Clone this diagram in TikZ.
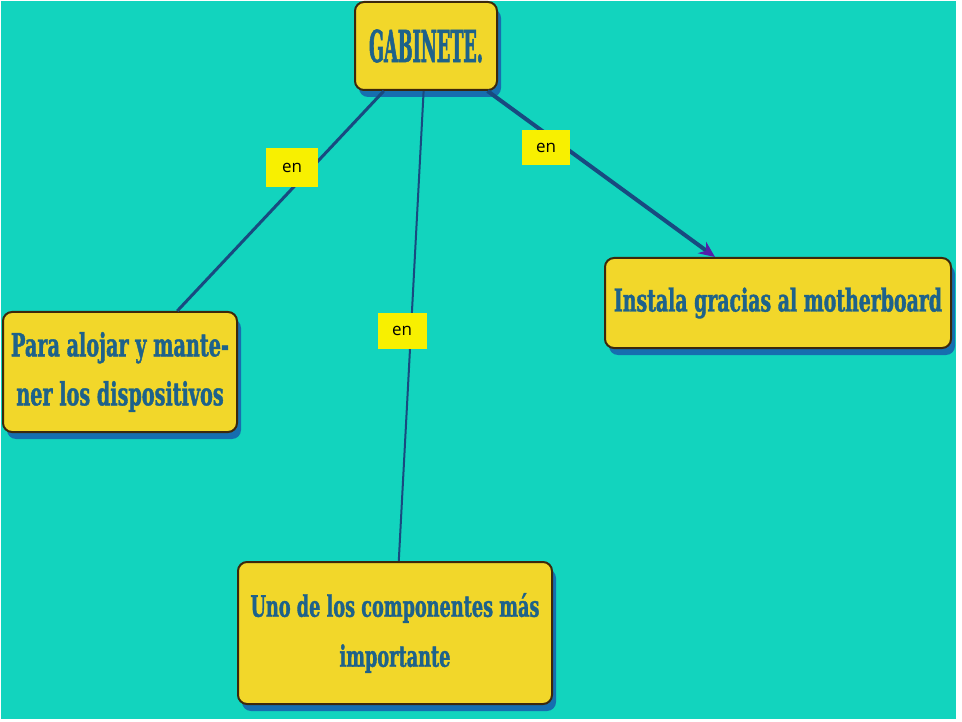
\documentclass[tikz,border=0pt]{standalone}
\usepackage{fontspec}
\usetikzlibrary{arrows.meta,shadows}
\newfontfamily\boxfont[FakeStretch=0.6,FakeBold=1.2,UprightFont={* Bold}]{DejaVu Serif}
\newfontfamily\titlefont[FakeStretch=0.4,FakeBold=1.2,UprightFont={* Bold}]{DejaVu Serif}
\newfontfamily\labfont{Open Sans}
\definecolor{bgteal}{RGB}{18,212,190}
\definecolor{boxyellow}{RGB}{242,215,42}
\definecolor{boxedge}{RGB}{60,40,12}
\definecolor{shadowblue}{RGB}{22,110,175}
\definecolor{txtblue}{RGB}{30,98,138}
\definecolor{linkblue}{RGB}{24,74,128}
\definecolor{arrowpurple}{RGB}{84,30,170}
\definecolor{labyellow}{RGB}{248,240,0}
\tikzset{
  concept/.style={draw=boxedge, line width=2pt, fill=boxyellow, rounded corners=9pt,
    text=txtblue, align=center, inner sep=0pt,
    font=\boxfont\fontsize{32}{49}\selectfont,
    drop shadow={fill=shadowblue, opacity=1, shadow xshift=4pt, shadow yshift=-7pt}},
  link/.style={draw=linkblue, line width=2.5pt},
  linklabel/.style={fill=labyellow, text=black, font=\labfont\fontsize{17}{20}\selectfont,
    minimum width=50pt, minimum height=37pt, inner sep=0pt}
}
\begin{document}
\begin{tikzpicture}[x=1pt,y=-1pt]
\useasboundingbox (0,0) rectangle (962,722);
\fill[white] (0,0) rectangle (962,722);
\fill[bgteal] (1,1) rectangle (956,719);
% concepts
\node[concept, minimum width=142pt, minimum height=88pt,
      font=\titlefont\fontsize{44}{48}\selectfont] (gab) at (426,46) {GABINETE.};
\node[concept, minimum width=234pt, minimum height=120pt] (left) at (120,372)
  {Para alojar y mante-\\ner los dispositivos};
\node[concept, minimum width=346pt, minimum height=90pt,
      font=\boxfont\fontsize{31.5}{48}\selectfont] (right) at (778,303)
  {Instala gracias al motherboard};
\node[concept, minimum width=314pt, minimum height=142pt,
      font=\boxfont\fontsize{29.5}{50}\selectfont] (bottom) at (395,633)
  {Uno de los componentes más\\importante};
% connectors
\draw[link, line width=3pt] (gab) -- (left);
\draw[link, line width=2pt] (gab) -- (bottom);
\draw[link, line width=4pt, -{Stealth[length=16pt,width=14pt,color=arrowpurple]}] (gab) -- (right);
% labels
\node[linklabel, minimum width=52pt, minimum height=39pt] (l1) at (292,168) {en};
\node[linklabel, minimum width=49pt, minimum height=36pt] (l2) at (402,331) {en};
\node[linklabel, minimum width=48pt, minimum height=35pt] (l3) at (546,148) {en};
\end{tikzpicture}
\end{document}
